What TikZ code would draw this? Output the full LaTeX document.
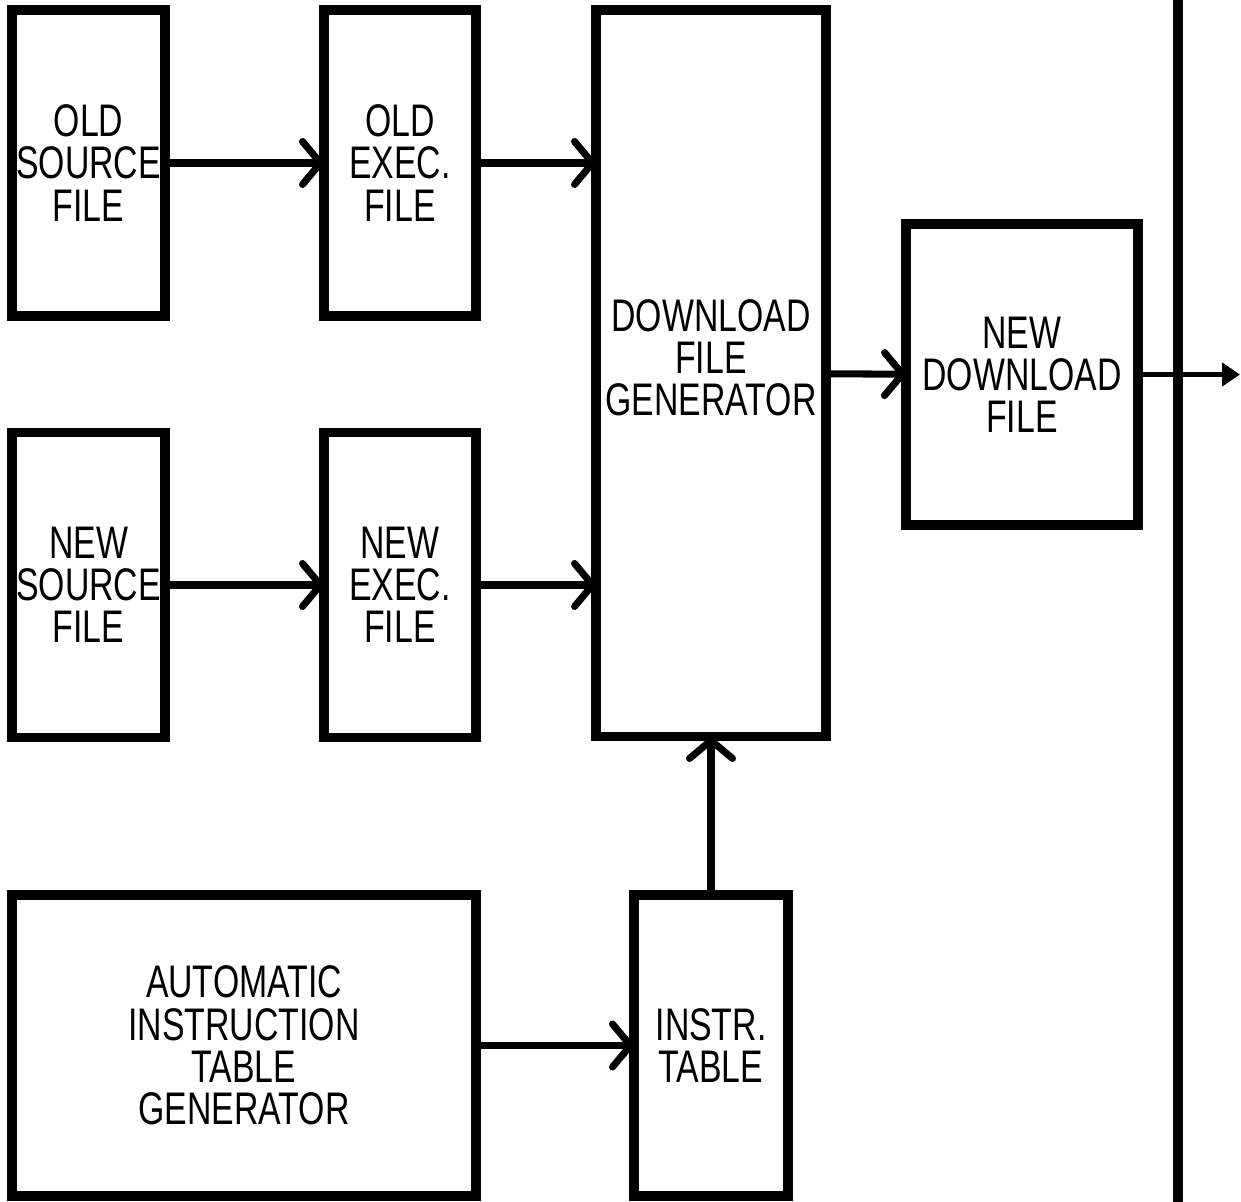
\documentclass[tikz,border=0pt]{standalone}
\usepackage{fontspec}
\setmainfont{Liberation Sans}[FakeStretch=0.74]
\usetikzlibrary{arrows.meta, positioning, calc}

\begin{document}
\begin{tikzpicture}[x=0.02cm, y=-0.02cm,
    blk/.style={draw, line width=5.2pt, inner sep=0pt, outer sep=0pt, align=center,
        font=\fontsize{26pt}{24pt}\selectfont},
    arr/.style={line width=4pt, -{Straight Barb[length=0.36cm, width=0.86cm, round]}}]
    \useasboundingbox (0,0) rectangle (1241,1202);

    % old and new files
    \node[blk, minimum width=3.06cm, minimum height=6.12cm] (oldsrc) at (88.5,163) {OLD\\SOURCE\\FILE};
    \node[blk, minimum width=3.04cm, minimum height=6.12cm] (oldexe) at (400,163) {OLD\\EXEC.\\FILE};
    \node[blk, minimum width=3.06cm, minimum height=6.1cm] (newsrc) at (88.5,585) {NEW\\SOURCE\\FILE};
    \node[blk, minimum width=3.04cm, minimum height=6.1cm] (newexe) at (400,585) {NEW\\EXEC.\\FILE};

    % generator and output
    \node[blk, minimum width=4.6cm, minimum height=14.54cm,
        label={[font=\fontsize{26pt}{24pt}\selectfont, align=center, yshift=0.32cm]center:DOWNLOAD\\FILE\\GENERATOR}]
        (gen) at (711,373.5) {};
    \node[blk, minimum width=4.64cm, minimum height=6.02cm] (newdl) at (1022,374.5) {NEW\\DOWNLOAD\\FILE};

    % instruction table
    \node[blk, minimum width=9.28cm, minimum height=6.02cm] (autogen) at (244,1045.5) {AUTOMATIC\\INSTRUCTION\\TABLE\\GENERATOR};
    \node[blk, minimum width=3.08cm, minimum height=6.02cm] (instr) at (711,1045.5) {INSTR.\\TABLE};

    % bus line
    \coordinate (bustop) at (1178,0);
    \coordinate (busbot) at (1178,1202);
    \coordinate (out) at (1240,374.5);
    \draw[line width=5.2pt] (bustop) -- (busbot);

    \draw[arr] (oldsrc) -- (oldexe);
    \draw[arr] (oldexe) -- (oldexe -| gen.west);
    \draw[arr] (newsrc) -- (newexe);
    \draw[arr] (newexe) -- (newexe -| gen.west);
    \draw[arr] (autogen) -- (instr);
    \draw[arr] (instr) -- (gen);
    \draw[arr] (gen) -- (newdl);
    \draw[line width=3.4pt, -{Triangle[length=0.36cm, width=0.46cm]}] (newdl) -- (out);
\end{tikzpicture}
\end{document}
